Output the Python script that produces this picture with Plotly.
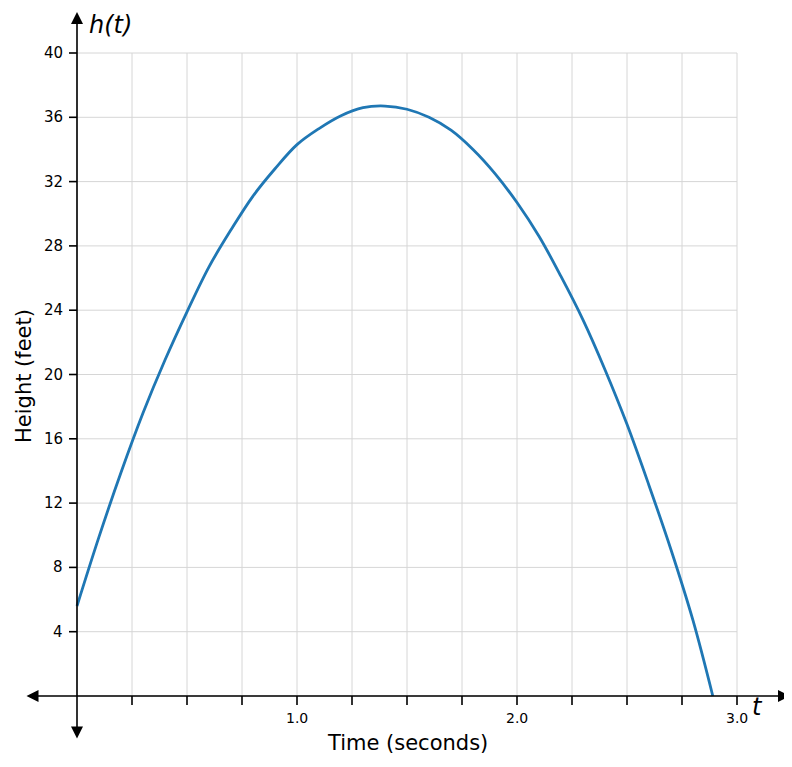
import plotly.graph_objects as go

# values (time in s, height in feet)
t_vals = [0, 0.1, 0.2, 0.3, 0.4, 0.5, 0.6, 0.7, 0.8, 0.9, 1.0, 1.1, 1.2, 1.3, 1.4,
          1.5, 1.6, 1.7, 1.8, 1.9, 2.0, 2.1, 2.2, 2.3, 2.4, 2.5, 2.6, 2.7, 2.8, 2.89]
h_vals = [5.6, 9.9, 13.9, 17.6, 20.9, 23.9, 26.7, 29.0, 31.1, 32.8, 34.3, 35.3, 36.1, 36.6, 36.7,
          36.5, 36.0, 35.2, 34.0, 32.5, 30.7, 28.6, 26.1, 23.4, 20.3, 16.9, 13.1, 9.1, 4.7, 0.0]

x_grid = [i * 0.25 for i in range(13)]
y_grid = [i * 4 for i in range(11)]
x_labels = {1.0: '1.0', 2.0: '2.0', 3.0: '3.0'}
y_ticks = y_grid[1:]

W, H = 792, 767
# page body adds 8 px, so origin sits at (69, 688) inside the figure
px_t, px_h = 220.0, 16.075
ox, oy = 69, 688
x_rng = [-ox / px_t, (W - ox) / px_t]
y_rng = [(oy - H) / px_h, oy / px_h]

fig = go.Figure()
fig.add_trace(go.Scatter(x=t_vals, y=h_vals, mode='lines',
                         line=dict(color='#1f77b4', width=2.8, shape='spline', smoothing=1.0),
                         hoverinfo='skip'))

shapes = []
# grid only inside the first quadrant
for gx in x_grid:
    shapes.append(dict(type='line', x0=gx, x1=gx, y0=0, y1=40, layer='below',
                       line=dict(color='#d6d6d6', width=1)))
for gy in y_grid:
    shapes.append(dict(type='line', x0=0, x1=3, y0=gy, y1=gy, layer='below',
                       line=dict(color='#d6d6d6', width=1)))
# tick marks
for gx in x_grid[1:]:
    shapes.append(dict(type='line', x0=gx, x1=gx, ysizemode='pixel', yanchor=0, y0=0, y1=-9,
                       line=dict(color='black', width=1.6)))
for gy in y_ticks:
    shapes.append(dict(type='line', y0=gy, y1=gy, xsizemode='pixel', xanchor=0, x0=-8, x1=0,
                       line=dict(color='black', width=1.6)))

ann = []
# axes with arrows on both ends
ann.append(dict(x=713 / px_t, y=0, ax=-52 / px_t, ay=0, axref='x', ayref='y',
                text='', showarrow=True, arrowside='end+start', arrowhead=2,
                arrowsize=1.5, arrowwidth=1.6, arrowcolor='black'))
ann.append(dict(x=0, y=684 / px_h, ax=0, ay=-44 / px_h, axref='x', ayref='y',
                text='', showarrow=True, arrowside='end+start', arrowhead=2,
                arrowsize=1.5, arrowwidth=1.6, arrowcolor='black'))

for v, lab in x_labels.items():
    ann.append(dict(x=v, y=0, text=lab, showarrow=False, yshift=-22,
                    font=dict(size=14, color='black')))
for v in y_ticks:
    ann.append(dict(x=0, y=v, text=str(v), showarrow=False, xanchor='right', xshift=-12,
                    font=dict(size=15, color='black')))

ann.append(dict(x=330 / px_t, y=0, text='Time (seconds)', showarrow=False, yshift=-47,
                font=dict(size=21, color='black')))
ann.append(dict(x=0, y=320 / px_h, text='Height (feet)', showarrow=False, textangle=-90,
                xshift=-53, font=dict(size=21, color='black')))
ann.append(dict(x=0, y=671 / px_h, text='<i>h(t)</i>', showarrow=False, xanchor='left',
                xshift=10, font=dict(size=24, color='black')))
ann.append(dict(x=680 / px_t, y=0, text='<i>t</i>', showarrow=False, yshift=-11,
                font=dict(size=24, color='black')))

fig.update_layout(
    width=W, height=H,
    margin=dict(l=0, r=0, t=0, b=0),
    paper_bgcolor='white', plot_bgcolor='white',
    font=dict(family='DejaVu Sans'),
    showlegend=False,
    xaxis=dict(range=x_rng, visible=False, fixedrange=True),
    yaxis=dict(range=y_rng, visible=False, fixedrange=True),
    shapes=shapes, annotations=ann,
)

fig.write_html("out.html", config={'displayModeBar': False})
